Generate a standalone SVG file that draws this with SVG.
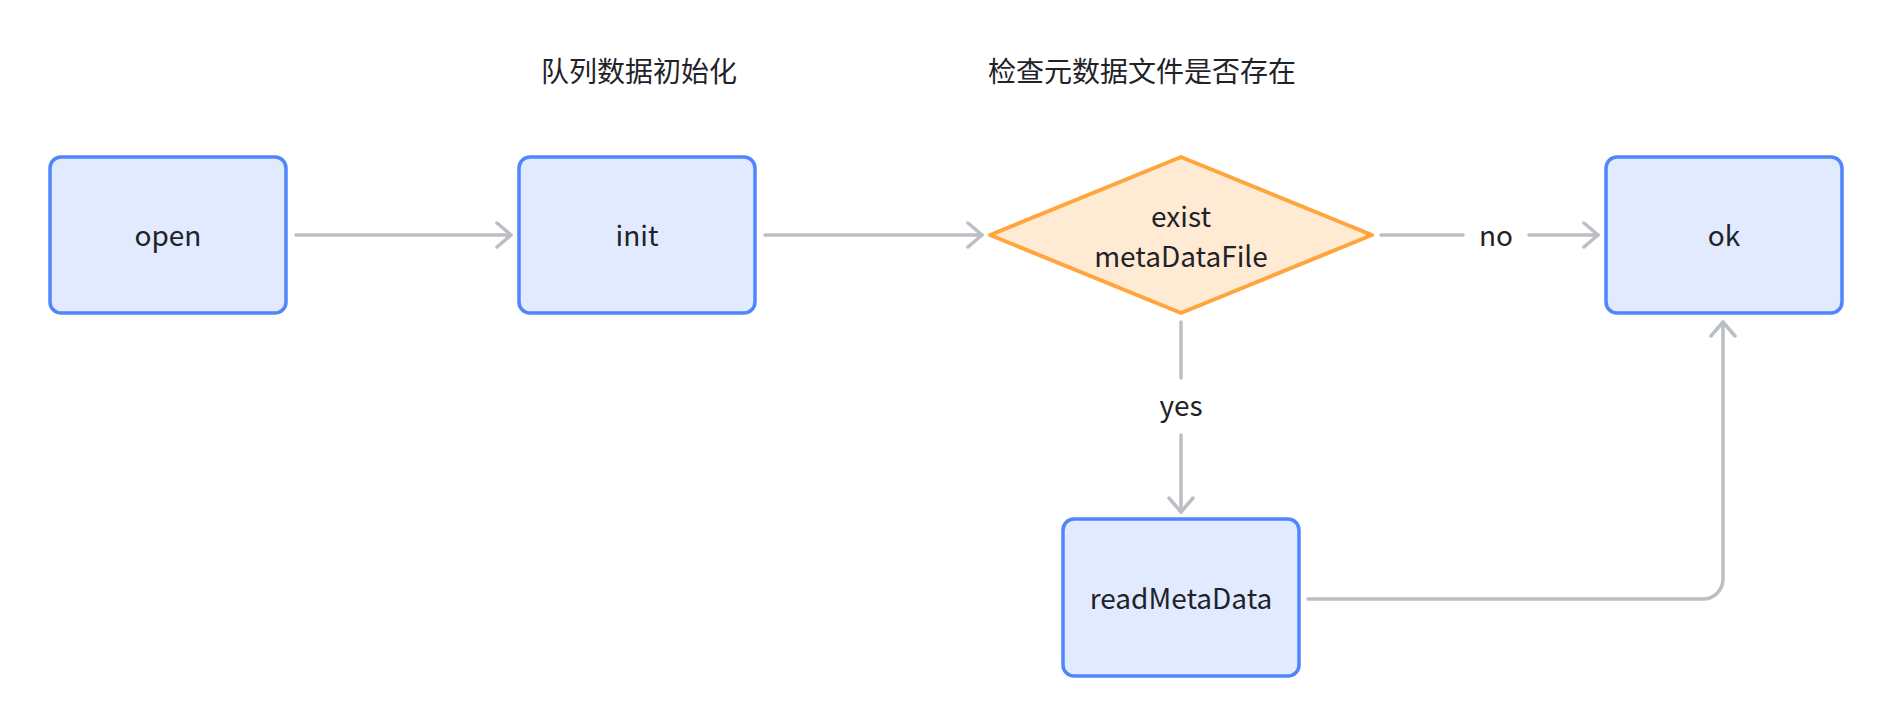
<svg xmlns="http://www.w3.org/2000/svg" width="1892" height="726" viewBox="0 0 1892 726">
<style>
  .box { fill: #e1eaff; stroke: #5086fb; stroke-width: 3.5; }
  .dia { fill: #ffead3; stroke: #ffa53c; stroke-width: 4; stroke-linejoin: round; }
  .lbl { font-family: "Noto Sans CJK SC", "Noto Sans", sans-serif; font-size: 28px; fill: #1f2329; text-anchor: middle; }
  .note { font-family: "Noto Sans CJK SC", sans-serif; font-size: 28px; fill: #1f2329; }
  .edge { fill: none; stroke: #bbbec3; stroke-width: 3.5; stroke-linecap: round; stroke-linejoin: round; }
</style>
<defs>
  <marker id="arr" viewBox="-17 -15 19 30" markerWidth="19" markerHeight="30" refX="0" refY="0" orient="auto" markerUnits="userSpaceOnUse">
    <path d="M-14,-12 L0,0 L-14,12" fill="none" stroke="#bbbec3" stroke-width="3.5" stroke-linecap="round" stroke-linejoin="round"/>
  </marker>
</defs>
<rect width="1892" height="726" fill="#ffffff"/>
<text class="note" x="639" y="82" text-anchor="middle">队列数据初始化</text>
<text class="note" x="988" y="82">检查元数据文件是否存在</text>
<g id="connectors">
  <path class="edge" d="M296 235 H511" marker-end="url(#arr)"/>
  <path class="edge" d="M765 235 H982" marker-end="url(#arr)"/>
  <path class="edge" d="M1381 235 H1463"/>
  <path class="edge" d="M1529 235 H1598" marker-end="url(#arr)"/>
  <path class="edge" d="M1181 322 V378"/>
  <path class="edge" d="M1181 435 V512" marker-end="url(#arr)"/>
  <path class="edge" d="M1308 599 H1703 A20 20 0 0 0 1723 579 V322" marker-end="url(#arr)"/>
  <text class="lbl" x="1496" y="246">no</text>
  <text class="lbl" x="1181" y="416">yes</text>
</g>
<g id="open">
  <rect class="box" x="50" y="157" width="236" height="156" rx="11"/>
  <text class="lbl" x="168" y="246">open</text>
</g>
<g id="init">
  <rect class="box" x="519" y="157" width="236" height="156" rx="11"/>
  <text class="lbl" x="637" y="246">init</text>
</g>
<g id="exist">
  <polygon class="dia" points="990,235 1181,157 1372,235 1181,313"/>
  <text class="lbl" x="1181" y="227">exist</text>
  <text class="lbl" x="1181" y="267">metaDataFile</text>
</g>
<g id="ok">
  <rect class="box" x="1606" y="157" width="236" height="156" rx="11"/>
  <text class="lbl" x="1724" y="246">ok</text>
</g>
<g id="readMetaData">
  <rect class="box" x="1063" y="519" width="236" height="157" rx="11"/>
  <text class="lbl" x="1181" y="609">readMetaData</text>
</g>
</svg>
